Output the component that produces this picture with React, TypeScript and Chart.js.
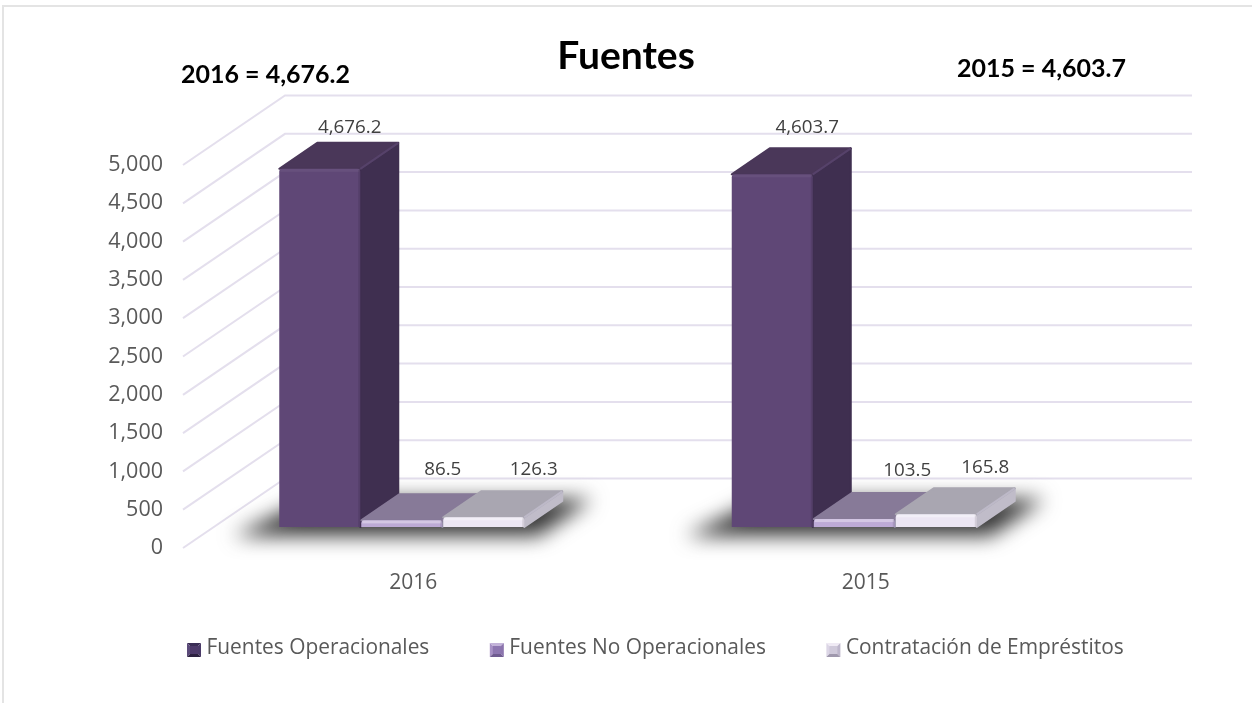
import React, { useEffect, useRef } from "react";
import { Chart, registerables } from "chart.js";

Chart.register(...registerables);

const categories = ["2016", "2015"];
const seriesNames = ["Fuentes Operacionales", "Fuentes No Operacionales", "Contratación de Empréstitos"];
const operacionales = [4676.2, 4603.7];
const noOperacionales = [86.5, 103.5];
const emprestitos = [126.3, 165.8];
const chartTitle = "Fuentes";
const totalLabels = ["2016 = 4,676.2", "2015 = 4,603.7"];

const SHIFT_X = -11.5;
const SHIFT_Y = -21;
const DEPTH_X = 38;
const DEPTH_Y = -26;
const FLOOR_X = 102;
const FLOOR_Y = -69.5;
const FONT = '"Open Sans", sans-serif';
const BOLD = 'Lato, sans-serif';

const faces = [
  { front: "#5f4776", top: "#4a3759", side: "#3f2f50", edge: "#56426a" },
  { front: "#bdaad6", top: "#877a98", side: "#8f8aa0", edge: "#8f82a0" },
  { front: "#ece6f3", top: "#a9a6b1", side: "#c0bcc9", edge: "#bdb9c8" },
];
const legendColors = [
  ["#3a2d55", "#5b4a7a", "#4a3a68", "#2c2140", "#4d3a6a"],
  ["#c3b3d9", "#a892c6", "#8b74ad", "#6f5b90", "#8d76b0"],
  ["#efeaf4", "#dcd6e6", "#bdb6cb", "#9f98ad", "#cfc9da"],
];
// label offset from the top-centre of each bar's front face: [series][category]
const labelOffsets = [
  [[30, -41], [35, -46.5]],
  [[41, -50.5], [53, -48.5]],
  [[50, -47.5], [49, -46.5]],
];

const poly = (ctx: CanvasRenderingContext2D, pts: number[][], fill: string) => {
  ctx.beginPath();
  pts.forEach((p, i) => (i ? ctx.lineTo(p[0], p[1]) : ctx.moveTo(p[0], p[1])));
  ctx.closePath();
  ctx.fillStyle = fill;
  ctx.strokeStyle = fill;
  ctx.lineWidth = 2;
  ctx.lineJoin = "round";
  ctx.fill();
  ctx.stroke();
};

const scene = {
  id: "scene",
  beforeDraw(chart: any) {
    const { ctx, chartArea: a, scales } = chart;
    ctx.save();
    ctx.fillStyle = "#ffffff";
    ctx.fillRect(0, 0, chart.width, chart.height);
    ctx.strokeStyle = "#e4e4e4";
    ctx.lineWidth = 2;
    ctx.beginPath();
    ctx.moveTo(3, 703);
    ctx.lineTo(3, 6);
    ctx.lineTo(1252, 6);
    ctx.stroke();
    // walls: gridlines on floor side + back
    ctx.strokeStyle = "#e4dfed";
    ctx.lineWidth = 2;
    const x0 = a.left - 4;
    for (const t of scales.y.ticks) {
      const y = scales.y.getPixelForValue(t.value);
      ctx.beginPath();
      ctx.moveTo(x0, y);
      ctx.lineTo(x0 + FLOOR_X, y + FLOOR_Y);
      ctx.lineTo(a.right + 100, y + FLOOR_Y);
      ctx.stroke();
    }
    ctx.restore();
  },
  beforeDatasetsDraw(chart: any) {
    const { ctx } = chart;
    const metas = [0, 1, 2].map((i) => chart.getDatasetMeta(i));
    const n = metas[0].data.length;
    ctx.save();
    ctx.translate(SHIFT_X, SHIFT_Y);
    // floor shadow
    for (let c = 0; c < n; c++) {
      const l = metas[0].data[c].x - metas[0].data[c].width / 2;
      const r = metas[2].data[c].x + metas[2].data[c].width / 2;
      const b = metas[0].data[c].base;
      ctx.save();
      ctx.filter = "blur(10px)";
      ctx.fillStyle = "#363636";
      ctx.beginPath();
      ctx.moveTo(l - 46, b + 9);
      ctx.lineTo(r + 14, b + 9);
      ctx.lineTo(r + 68, b - 28);
      ctx.lineTo(l + 30, b - 28);
      ctx.closePath();
      ctx.fill();
      ctx.restore();
    }
    // top and side faces
    metas.forEach((meta, s) => {
      meta.data.forEach((bar: any) => {
        const l = bar.x - bar.width / 2;
        const r = bar.x + bar.width / 2;
        const t = bar.y;
        const b = bar.base;
        poly(ctx, [[r, t], [r + DEPTH_X, t + DEPTH_Y], [r + DEPTH_X, b + DEPTH_Y], [r, b]], faces[s].side);
        poly(ctx, [[l, t], [r, t], [r + DEPTH_X, t + DEPTH_Y], [l + DEPTH_X, t + DEPTH_Y]], faces[s].top);
        ctx.strokeStyle = faces[s].edge;
        ctx.lineWidth = 2;
        ctx.beginPath();
        ctx.moveTo(r, t);
        ctx.lineTo(r + DEPTH_X, t + DEPTH_Y);
        ctx.stroke();
      });
    });
    ctx.restore();
    // front faces are drawn by Chart.js at the shifted depth
    ctx.save();
    ctx.translate(SHIFT_X, SHIFT_Y);
  },
  afterDatasetsDraw(chart: any) {
    const { ctx } = chart;
    ctx.restore();
    ctx.save();
    ctx.textAlign = "center";
    ctx.textBaseline = "middle";
    [0, 1, 2].forEach((s) => {
      const meta = chart.getDatasetMeta(s);
      meta.data.forEach((bar: any, c: number) => {
        const x = bar.x + SHIFT_X;
        const y = bar.y + SHIFT_Y;
        const h = bar.base - bar.y;
        // bevel highlight
        ctx.fillStyle = s === 0 ? "rgba(255,255,255,0.05)" : "rgba(255,255,255,0.35)";
        ctx.fillRect(x - bar.width / 2 + 1, y, bar.width - 2, Math.min(3, h));
        ctx.fillStyle = "rgba(0,0,0,0.10)";
        ctx.fillRect(x + bar.width / 2 - 2, y + 1, 2, h - 1);
        ctx.fillStyle = "#404040";
        ctx.font = `18.8px ${FONT}`;
        const v = chart.data.datasets[s].data[c];
        ctx.fillText(
          v.toLocaleString("en-US", { minimumFractionDigits: 1, maximumFractionDigits: 1 }),
          x + labelOffsets[s][c][0],
          y + labelOffsets[s][c][1]
        );
      });
    });
    // totals
    ctx.fillStyle = "#000000";
    ctx.font = `bold 25px ${BOLD}`;
    ctx.textAlign = "left";
    ctx.fillText(totalLabels[0], 181, 75);
    ctx.fillText(totalLabels[1], 957, 69);
    // legend
    ctx.font = `20.9px ${FONT}`;
    const ty = 648.5;
    let x = 187;
    seriesNames.forEach((name, s) => {
      const sz = 14;
      const top = 650 - sz / 2;
      const cx = x + sz / 2;
      const cy = 650;
      const col = legendColors[s];
      const tri = (pts: number[][], f: string) => {
        ctx.beginPath();
        pts.forEach((p, i) => (i ? ctx.lineTo(p[0], p[1]) : ctx.moveTo(p[0], p[1])));
        ctx.closePath();
        ctx.fillStyle = f;
        ctx.fill();
      };
      tri([[x, top], [x + sz, top], [cx, cy]], col[0]);
      tri([[x, top], [x, top + sz], [cx, cy]], col[1]);
      tri([[x + sz, top], [x + sz, top + sz], [cx, cy]], col[2]);
      tri([[x, top + sz], [x + sz, top + sz], [cx, cy]], col[3]);
      ctx.fillStyle = col[4];
      ctx.fillRect(x + 3, top + 3, sz - 6, sz - 6);
      ctx.fillStyle = "#595959";
      ctx.fillText(name, x + sz + 5.5, ty);
      x += sz + 5.5 + ctx.measureText(name).width + 60.5;
    });
    ctx.restore();
  },
};

export default function App() {
  const ref = useRef<HTMLCanvasElement>(null);
  useEffect(() => {
    const cfg: any = {
      type: "bar",
      data: {
        labels: categories,
        datasets: [operacionales, noOperacionales, emprestitos].map((d, s) => ({
          label: seriesNames[s],
          data: d,
          backgroundColor: faces[s].front,
          borderRadius: 3,
          categoryPercentage: 0.5436,
          barPercentage: 0.988,
          clip: false,
          yAxisID: "y",
        })),
      },
      options: {
        responsive: false,
        animation: false,
        layout: { padding: 0 },
        plugins: {
          legend: { display: false },
          tooltip: { enabled: false },
          title: {
            display: true,
            text: chartTitle,
            color: "#000000",
            font: { family: BOLD, size: 39, weight: "bold", lineHeight: 1.2 },
            padding: { top: 32.6, bottom: 85.6 },
          },
        },
        scales: {
          x: {
            grid: { display: false, drawTicks: false },
            border: { display: false },
            ticks: { color: "#595959", font: { family: FONT, size: 21 }, padding: 22 },
            afterFit: (s: any) => { s.height = 155; },
          },
          y: {
            min: 0,
            max: 5000,
            grid: { display: false, drawTicks: false },
            border: { display: false },
            ticks: {
              stepSize: 500,
              color: "#595959",
              font: { family: FONT, size: 21.5 },
              padding: 24,
              callback: (v: number) => v.toLocaleString("en-US"),
            },
            afterFit: (s: any) => { s.width = 187; },
          },
          spacer: {
            position: "right",
            min: 0,
            max: 1,
            grid: { display: false, drawTicks: false },
            border: { display: false },
            ticks: { display: false },
            afterFit: (s: any) => { s.width = 160; },
          },
        },
      },
      plugins: [scene],
    };
    const chart = new Chart(ref.current as HTMLCanvasElement, cfg);
    return () => chart.destroy();
  }, []);
  return (
    <div style={{ position: "absolute", left: 0, top: 0, width: 1252, height: 703, background: "#fff" }}>
      <canvas ref={ref} width={1252} height={703} style={{ display: "block" }} />
    </div>
  );
}
